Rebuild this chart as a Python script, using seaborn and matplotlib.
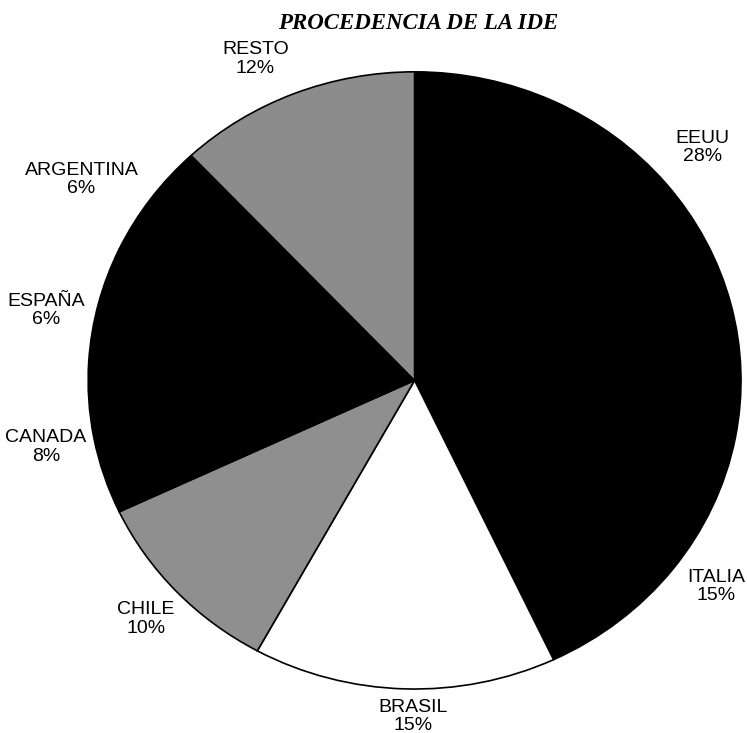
import matplotlib
matplotlib.use("Agg")
import matplotlib.pyplot as plt
import numpy as np
import seaborn as sns

# data
countries = ["EEUU", "ITALIA", "BRASIL", "CHILE", "CANADA", "ESPAÑA", "ARGENTINA", "RESTO"]
shares = [28, 15, 15, 10, 8, 6, 6, 12]
slice_colors = ["black", "black", "white", "#8f8f8f", "black", "black", "black", "#8c8c8c"]
# label placement: distance out (in pie radii) and small angle nudge (deg)
label_dist = [1.16, 1.14, 1.09, 1.13, 1.15, 1.15, 1.21, 1.15]
label_nudge = [1.0, 2.0, 1.5, 0.0, 0.0, 3.0, 3.5, 3.5]

sns.set_theme(style="white")
plt.rcParams["font.family"] = ["Liberation Sans", "DejaVu Sans"]

fig = plt.figure(figsize=(7.47, 7.33), dpi=100)
# the scanned pie is slightly wider than tall, so the axes follow its box
ax = fig.add_axes([0.118, 0.060, 0.874, 0.842])

wedges, _ = ax.pie(
    shares,
    colors=slice_colors,
    startangle=90,
    counterclock=False,
    wedgeprops=dict(edgecolor="black", linewidth=1.2),
)

for w, name, val, d, nudge in zip(wedges, countries, shares, label_dist, label_nudge):
    mid = np.deg2rad((w.theta1 + w.theta2) / 2 + nudge)
    ax.text(d * np.cos(mid), d * np.sin(mid), f"{name}\n{val}%",
            ha="center", va="center", fontsize=14, color="black",
            linespacing=1.1)

ax.set_aspect("auto")
ax.set_xlim(-1, 1)
ax.set_ylim(-1, 1)
ax.axis("off")

fig.text(0.56, 0.968, "PROCEDENCIA DE LA IDE", ha="center", va="center",
         fontsize=16.5, fontweight="bold", fontstyle="italic", color="black",
         family=["Liberation Serif", "DejaVu Serif"])

fig.savefig("out.png", dpi=100, facecolor="white")
